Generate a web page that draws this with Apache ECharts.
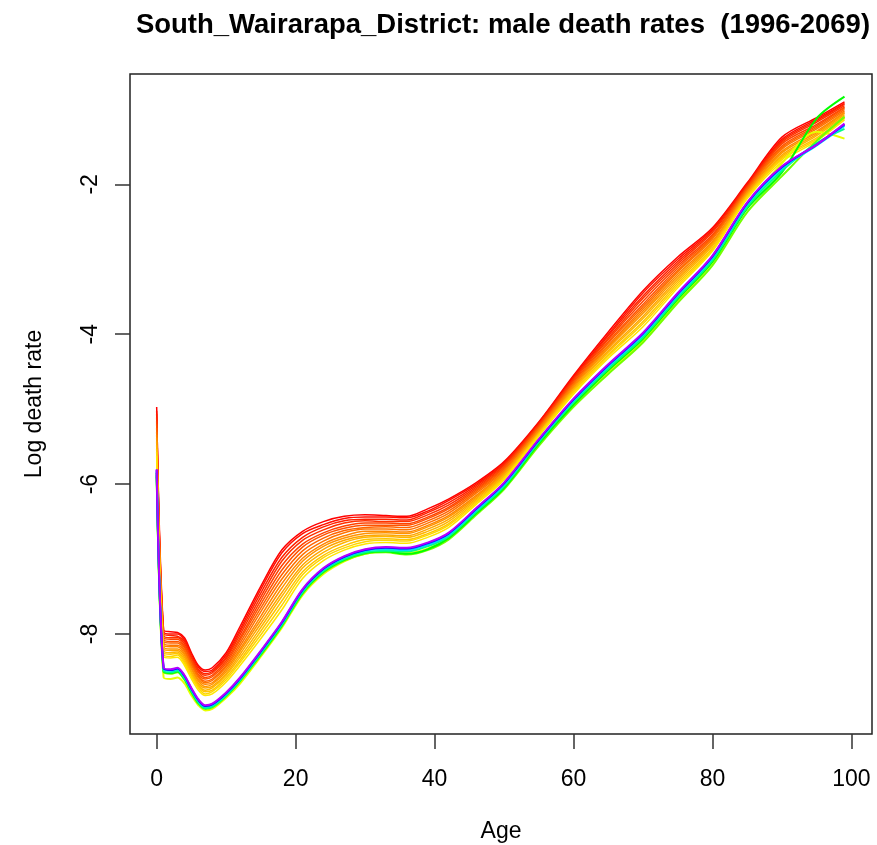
<!DOCTYPE html>
<html>
<head>
<meta charset="utf-8">
<script src="https://cdn.jsdelivr.net/npm/echarts@6/dist/echarts.min.js"></script>
<style>
html, body { margin: 0; padding: 0; background: #fff; }
#main { width: 877px; height: 845px; }
</style>
</head>
<body>
<div id="main"></div>
<script>
// ages sampled along the x axis
var ages = [0, 1, 2, 3, 4, 5, 6, 7, 8, 10, 12, 15, 18, 21, 24, 27, 30, 33, 36, 39, 42, 46, 50, 55, 60, 65, 70, 75, 80, 85, 90, 95, 99];

// log death rates, one array per year shown
var rate1996 = [-4.97, -7.95, -7.97, -7.98, -8.05, -8.25, -8.42, -8.48, -8.45, -8.25, -7.90, -7.36, -6.88, -6.63, -6.50, -6.43, -6.41, -6.42, -6.43, -6.33, -6.20, -5.98, -5.70, -5.17, -4.55, -3.97, -3.42, -2.97, -2.58, -1.98, -1.37, -1.11, -0.90];
var rate1997 = [-5.02, -7.97, -8.00, -8.00, -8.08, -8.27, -8.44, -8.50, -8.48, -8.28, -7.94, -7.40, -6.92, -6.66, -6.54, -6.46, -6.44, -6.44, -6.45, -6.36, -6.22, -6.00, -5.72, -5.18, -4.57, -4.00, -3.45, -3.00, -2.60, -2.00, -1.40, -1.13, -0.92];
var rate1998 = [-5.06, -8.00, -8.02, -8.03, -8.10, -8.30, -8.47, -8.53, -8.50, -8.31, -7.97, -7.45, -6.98, -6.71, -6.57, -6.49, -6.47, -6.47, -6.48, -6.38, -6.25, -6.02, -5.73, -5.20, -4.59, -4.02, -3.49, -3.03, -2.62, -2.01, -1.42, -1.15, -0.93];
var rate1999 = [-5.11, -8.02, -8.05, -8.05, -8.13, -8.32, -8.49, -8.55, -8.52, -8.33, -8.01, -7.50, -7.03, -6.75, -6.61, -6.52, -6.49, -6.50, -6.50, -6.41, -6.28, -6.04, -5.75, -5.21, -4.60, -4.05, -3.52, -3.06, -2.64, -2.03, -1.44, -1.17, -0.95];
var rate2000 = [-5.16, -8.05, -8.07, -8.07, -8.16, -8.35, -8.51, -8.58, -8.55, -8.36, -8.05, -7.55, -7.09, -6.80, -6.65, -6.56, -6.52, -6.52, -6.53, -6.44, -6.31, -6.06, -5.77, -5.22, -4.62, -4.07, -3.56, -3.09, -2.67, -2.04, -1.46, -1.20, -0.97];
var rate2001 = [-5.20, -8.07, -8.10, -8.10, -8.18, -8.37, -8.54, -8.60, -8.57, -8.39, -8.08, -7.60, -7.15, -6.84, -6.68, -6.59, -6.55, -6.55, -6.55, -6.46, -6.33, -6.08, -5.78, -5.24, -4.64, -4.10, -3.60, -3.12, -2.69, -2.05, -1.49, -1.22, -0.98];
var rate2002 = [-5.25, -8.10, -8.12, -8.12, -8.21, -8.40, -8.56, -8.63, -8.60, -8.42, -8.12, -7.65, -7.21, -6.89, -6.72, -6.62, -6.58, -6.57, -6.58, -6.49, -6.36, -6.10, -5.80, -5.25, -4.66, -4.12, -3.63, -3.15, -2.71, -2.07, -1.51, -1.24, -1.00];
var rate2003 = [-5.30, -8.12, -8.15, -8.15, -8.23, -8.42, -8.58, -8.65, -8.62, -8.44, -8.16, -7.70, -7.27, -6.94, -6.76, -6.65, -6.60, -6.60, -6.61, -6.52, -6.39, -6.12, -5.82, -5.26, -4.67, -4.15, -3.66, -3.17, -2.73, -2.08, -1.53, -1.26, -1.02];
var rate2004 = [-5.34, -8.15, -8.17, -8.17, -8.26, -8.45, -8.61, -8.67, -8.65, -8.47, -8.20, -7.76, -7.33, -6.99, -6.80, -6.69, -6.63, -6.63, -6.64, -6.55, -6.42, -6.15, -5.84, -5.28, -4.69, -4.17, -3.69, -3.20, -2.76, -2.10, -1.56, -1.29, -1.04];
var rate2005 = [-5.38, -8.17, -8.20, -8.20, -8.28, -8.47, -8.63, -8.70, -8.67, -8.50, -8.23, -7.81, -7.39, -7.03, -6.83, -6.72, -6.66, -6.65, -6.66, -6.57, -6.44, -6.17, -5.85, -5.29, -4.71, -4.19, -3.72, -3.23, -2.78, -2.11, -1.58, -1.31, -1.05];
var rate2006 = [-5.43, -8.20, -8.22, -8.22, -8.31, -8.50, -8.66, -8.72, -8.70, -8.53, -8.27, -7.86, -7.45, -7.08, -6.87, -6.75, -6.69, -6.68, -6.69, -6.60, -6.47, -6.19, -5.87, -5.31, -4.73, -4.22, -3.76, -3.26, -2.80, -2.13, -1.61, -1.33, -1.07];
var rate2007 = [-5.48, -8.22, -8.25, -8.24, -8.34, -8.52, -8.68, -8.75, -8.72, -8.55, -8.31, -7.91, -7.50, -7.12, -6.91, -6.78, -6.71, -6.70, -6.71, -6.63, -6.50, -6.21, -5.89, -5.32, -4.74, -4.24, -3.79, -3.29, -2.82, -2.14, -1.63, -1.35, -1.09];
var rate2008 = [-5.53, -8.25, -8.27, -8.26, -8.37, -8.55, -8.70, -8.77, -8.75, -8.58, -8.35, -7.96, -7.56, -7.17, -6.95, -6.82, -6.74, -6.73, -6.74, -6.66, -6.53, -6.23, -5.91, -5.33, -4.76, -4.27, -3.83, -3.32, -2.85, -2.16, -1.65, -1.38, -1.11];
var rate2009 = [-5.57, -8.27, -8.30, -8.28, -8.39, -8.57, -8.72, -8.80, -8.77, -8.61, -8.38, -8.01, -7.62, -7.21, -6.98, -6.85, -6.77, -6.75, -6.76, -6.68, -6.55, -6.25, -5.92, -5.34, -4.78, -4.29, -3.86, -3.35, -2.87, -2.17, -1.67, -1.40, -1.12];
var rate2010 = [-5.62, -8.30, -8.32, -8.31, -8.42, -8.60, -8.75, -8.82, -8.80, -8.64, -8.42, -8.06, -7.68, -7.26, -7.02, -6.88, -6.80, -6.78, -6.79, -6.71, -6.58, -6.27, -5.94, -5.36, -4.80, -4.32, -3.90, -3.38, -2.89, -2.19, -1.70, -1.42, -1.14];
var rate2013 = [-5.85, -8.58, -8.60, -8.58, -8.66, -8.82, -8.95, -9.02, -9.00, -8.85, -8.66, -8.30, -7.92, -7.48, -7.20, -7.03, -6.93, -6.90, -6.92, -6.86, -6.72, -6.38, -6.04, -5.45, -4.92, -4.50, -4.08, -3.56, -3.04, -2.30, -1.72, -1.30, -1.39];
var rate2020 = [-5.90, -8.51, -8.53, -8.51, -8.61, -8.78, -8.93, -9.00, -8.98, -8.83, -8.63, -8.28, -7.90, -7.46, -7.18, -7.02, -6.93, -6.91, -6.94, -6.88, -6.74, -6.41, -6.07, -5.49, -4.97, -4.53, -4.11, -3.58, -3.08, -2.37, -1.89, -1.42, -1.10];
var rate2027 = [-5.88, -8.50, -8.52, -8.50, -8.60, -8.77, -8.92, -8.99, -8.97, -8.82, -8.62, -8.27, -7.89, -7.45, -7.17, -7.01, -6.92, -6.90, -6.93, -6.87, -6.72, -6.39, -6.05, -5.46, -4.94, -4.48, -4.06, -3.53, -3.03, -2.32, -1.84, -1.12, -0.83];
var rate2035 = [-5.85, -8.49, -8.51, -8.49, -8.59, -8.76, -8.91, -8.99, -8.97, -8.82, -8.62, -8.26, -7.88, -7.44, -7.16, -7.00, -6.91, -6.89, -6.90, -6.83, -6.70, -6.37, -6.03, -5.44, -4.91, -4.46, -4.04, -3.51, -3.01, -2.30, -1.82, -1.45, -1.26];
var rate2045 = [-5.83, -8.47, -8.49, -8.47, -8.57, -8.74, -8.89, -8.97, -8.95, -8.80, -8.60, -8.24, -7.86, -7.42, -7.14, -6.98, -6.89, -6.87, -6.88, -6.81, -6.68, -6.35, -6.01, -5.42, -4.89, -4.43, -4.01, -3.48, -2.98, -2.27, -1.79, -1.48, -1.22];
var rate2057 = [-5.81, -8.46, -8.48, -8.46, -8.56, -8.73, -8.88, -8.96, -8.94, -8.79, -8.59, -8.23, -7.85, -7.41, -7.13, -6.97, -6.88, -6.85, -6.86, -6.79, -6.66, -6.33, -5.99, -5.41, -4.87, -4.41, -3.99, -3.46, -2.96, -2.25, -1.77, -1.47, -1.20];
var rate2069 = [-5.80, -8.45, -8.47, -8.45, -8.55, -8.72, -8.87, -8.95, -8.93, -8.78, -8.58, -8.22, -7.84, -7.40, -7.12, -6.96, -6.87, -6.84, -6.85, -6.78, -6.65, -6.32, -5.98, -5.40, -4.86, -4.40, -3.98, -3.45, -2.95, -2.24, -1.76, -1.47, -1.19];

var years = [1996, 1997, 1998, 1999, 2000, 2001, 2002, 2003, 2004, 2005, 2006, 2007, 2008, 2009, 2010, 2013, 2020, 2027, 2035, 2045, 2057, 2069];
var rates = [rate1996, rate1997, rate1998, rate1999, rate2000, rate2001, rate2002, rate2003, rate2004, rate2005, rate2006, rate2007, rate2008, rate2009, rate2010, rate2013, rate2020, rate2027, rate2035, rate2045, rate2057, rate2069];

var xTicks = [0, 20, 40, 60, 80, 100];
var yTicks = [-8, -6, -4, -2];

var firstYear = 1996, lastYear = 2069;

// R style rainbow: hue runs from red towards violet over the years
function rainbowColor(year) {
    var n = Math.ceil((lastYear - firstYear + 1) * 1.25);
    var h = (year - firstYear) / n * 6;
    var s = Math.floor(h), f = h - s, r, g, b;
    if (s == 0) { r = 1; g = f; b = 0; }
    else if (s == 1) { r = 1 - f; g = 1; b = 0; }
    else if (s == 2) { r = 0; g = 1; b = f; }
    else if (s == 3) { r = 0; g = 1 - f; b = 1; }
    else if (s == 4) { r = f; g = 0; b = 1; }
    else { r = 1; g = 0; b = 1 - f; }
    return 'rgb(' + Math.round(r * 255) + ',' + Math.round(g * 255) + ',' + Math.round(b * 255) + ')';
}

var font = 'Liberation Sans, Arial, sans-serif';
var series = [];
for (var i = 0; i < years.length; i++) {
    var pts = [];
    for (var j = 0; j < ages.length; j++) {
        pts.push([ages[j], rates[i][j]]);
    }
    series.push({
        type: 'line',
        name: String(years[i]),
        data: pts,
        smooth: 0.3,
        symbol: 'none',
        silent: true,
        lineStyle: { color: rainbowColor(years[i]), width: years[i] <= 2010 ? 1.5 : 2 }
    });
}

var chart = echarts.init(document.getElementById('main'));
chart.setOption({
    animation: false,
    backgroundColor: '#fff',
    title: {
        text: 'South_Wairarapa_District: male death rates  (1996-2069)',
        left: 498,
        top: 6,
        textAlign: 'center',
        textStyle: { fontFamily: font, fontSize: 27.5, fontWeight: 'bold', color: '#000' }
    },
    grid: {
        left: 130, right: 5, top: 74, bottom: 111,
        outerBoundsMode: 'none',
        show: true, borderColor: '#222', borderWidth: 1.5
    },
    xAxis: {
        type: 'value',
        min: -3.84,
        max: 102.96,
        name: 'Age',
        nameLocation: 'middle',
        nameGap: 86,
        nameTextStyle: { fontFamily: font, fontSize: 23, color: '#000' },
        axisLine: { show: false, onZero: false },
        splitLine: { show: false },
        axisTick: { show: true, customValues: xTicks, length: 15, lineStyle: { color: '#333', width: 1.5 } },
        axisLabel: { customValues: xTicks, fontFamily: font, fontSize: 23, color: '#000', margin: 34 }
    },
    yAxis: {
        type: 'value',
        min: -9.334,
        max: -0.528,
        name: 'Log death rate',
        nameLocation: 'middle',
        nameGap: 84,
        nameTextStyle: { fontFamily: font, fontSize: 23, color: '#000' },
        axisLine: { show: false, onZero: false },
        splitLine: { show: false },
        axisTick: { show: true, customValues: yTicks, length: 15, lineStyle: { color: '#333', width: 1.5 } },
        axisLabel: { customValues: yTicks, rotate: 90, fontFamily: font, fontSize: 23, color: '#000', margin: 28 }
    },
    series: series
});
</script>
</body>
</html>
